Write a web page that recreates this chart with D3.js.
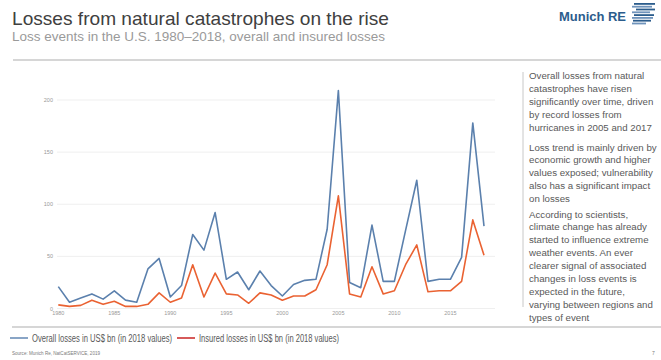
<!DOCTYPE html>
<html>
<head>
<meta charset="utf-8">
<script src="https://cdn.jsdelivr.net/npm/d3@7"></script>
<style>
  body { margin: 0; background: #fff; }
  svg { display: block; font-family: "Liberation Sans", Arial, sans-serif; }
</style>
</head>
<body>
<div id="chart"></div>
<script>
// data
var years = d3.range(1980, 2019);
var overall = [21, 6, 10, 14, 9, 17, 8, 6, 38, 48, 11, 22, 71, 56, 92, 28, 35, 18, 36, 22,
               12, 23, 27, 28, 76, 209, 25, 20, 80, 26, 26, 75, 123, 26, 28, 28, 49, 178, 79];
var insured = [3.5, 2, 3, 8, 4, 7, 2, 2, 4, 15, 6, 10, 42, 11, 34, 14, 13, 5, 15, 13,
               8, 12, 12, 18, 42, 108, 14, 11, 40, 14, 17, 42, 61, 16, 17, 17, 26, 85, 51];
var yTicks = [0, 50, 100, 150, 200];
var xTicks = [1980, 1985, 1990, 1995, 2000, 2005, 2010, 2015];
var legendLabels = ["Overall losses in US$ bn (in 2018 values)", "Insured losses in US$ bn (in 2018 values)"];
var notes = [
  ["Overall losses from natural", "catastrophes have risen", "significantly over time, driven",
   "by record losses from", "hurricanes in 2005 and 2017"],
  ["Loss trend is mainly driven by", "economic growth and higher", "values exposed; vulnerability",
   "also has a significant impact", "on losses"],
  ["According to scientists,", "climate change has already", "started to influence extreme",
   "weather events. An ever", "clearer signal of associated", "changes in loss events is",
   "expected in the future,", "varying between regions and", "types of event"]
];

var w = 661, h = 360;
var svg = d3.select("#chart").append("svg").attr("width", w).attr("height", h);

// header
svg.append("text").attr("x", 12).attr("y", 25)
    .attr("font-size", "18.5px").attr("fill", "#404040")
    .attr("textLength", 377).attr("lengthAdjust", "spacingAndGlyphs")
    .text("Losses from natural catastrophes on the rise");
svg.append("text").attr("x", 12).attr("y", 41)
    .attr("font-size", "13.3px").attr("fill", "#9a9a9a")
    .attr("textLength", 373).attr("lengthAdjust", "spacingAndGlyphs")
    .text("Loss events in the U.S. 1980\u20132018, overall and insured losses");

// logo
svg.append("text").attr("x", 559).attr("y", 21)
    .attr("font-size", "12px").attr("font-weight", "bold").attr("fill", "#2b5c8c")
    .attr("textLength", 67).attr("lengthAdjust", "spacingAndGlyphs")
    .text("Munich RE");
var stripes = [[634, 655], [632, 652], [636, 655], [632, 650], [634, 654], [632, 653], [633, 651], [632, 646]];
stripes.forEach(function(s, i) {
    svg.append("rect").attr("x", s[0]).attr("y", 3 + i * 2.8).attr("width", s[1] - s[0]).attr("height", 1.8)
        .attr("fill", i % 2 ? "#6f93bb" : "#2b5c8c");
});

// separators
svg.append("line").attr("x1", 13).attr("x2", w).attr("y1", 60).attr("y2", 60)
    .attr("stroke", "#c8c8c8").attr("stroke-width", 1.5);
svg.append("line").attr("x1", 12).attr("x2", w).attr("y1", 327).attr("y2", 327)
    .attr("stroke", "#c8c8c8").attr("stroke-width", 1.5);

// scales
var xScale = d3.scaleLinear().domain([1980, 2018]).range([58.3, 484]);
var yScale = d3.scaleLinear().domain([0, 200]).range([308.5, 100]);

// gridlines
svg.selectAll(".grid").data(yTicks).enter().append("line")
    .attr("class", "grid")
    .attr("x1", 57).attr("x2", 495)
    .attr("y1", function(d) { return yScale(d); })
    .attr("y2", function(d) { return yScale(d); })
    .attr("stroke", "#efefef").attr("stroke-width", 1);

svg.selectAll(".ylab").data(yTicks).enter().append("text")
    .attr("class", "ylab")
    .attr("x", 53).attr("y", function(d) { return yScale(d) + 2; })
    .attr("text-anchor", "end").attr("font-size", "5.5px").attr("fill", "#999")
    .text(function(d) { return d; });

svg.selectAll(".xlab").data(xTicks).enter().append("text")
    .attr("class", "xlab")
    .attr("x", function(d) { return xScale(d); }).attr("y", 315)
    .attr("text-anchor", "middle").attr("font-size", "5.5px").attr("fill", "#999")
    .text(function(d) { return d; });

// lines
var line = function(vals) {
    return d3.line()
        .x(function(d, i) { return xScale(years[i]); })
        .y(function(d) { return yScale(d); })(vals);
};
svg.append("path").attr("d", line(overall)).attr("fill", "none")
    .attr("stroke", "#5b80ad").attr("stroke-width", 1.6).attr("stroke-linejoin", "round");
svg.append("path").attr("d", line(insured)).attr("fill", "none")
    .attr("stroke", "#ea6232").attr("stroke-width", 1.6).attr("stroke-linejoin", "round");

// right notes
svg.append("line").attr("x1", 523).attr("x2", 523).attr("y1", 72).attr("y2", 307)
    .attr("stroke", "#c8c8c8").attr("stroke-width", 1);
var starts = [79, 150.5, 217.5];
notes.forEach(function(par, p) {
    par.forEach(function(t, i) {
        svg.append("text").attr("x", 529).attr("y", starts[p] + i * 12.9)
            .attr("font-size", "9.7px").attr("fill", "#595959").text(t);
    });
});

// legend
var legendColors = ["#4a74a8", "#c00000"];
var legendX = [10, 177];
legendLabels.forEach(function(t, i) {
    svg.append("line").attr("x1", legendX[i]).attr("x2", legendX[i] + 18).attr("y1", 338).attr("y2", 338)
        .attr("stroke", legendColors[i]).attr("stroke-width", 1.3);
    svg.append("text").attr("x", legendX[i] + 22).attr("y", 342)
        .attr("font-size", "10px").attr("fill", "#595959")
        .attr("textLength", 140).attr("lengthAdjust", "spacingAndGlyphs").text(t);
});

// footer
svg.append("text").attr("x", 12).attr("y", 355).attr("font-size", "5px").attr("fill", "#7a7a7a")
    .attr("textLength", 88).attr("lengthAdjust", "spacingAndGlyphs")
    .text("Source: Munich Re, NatCatSERVICE, 2019");
svg.append("text").attr("x", 652).attr("y", 355).attr("font-size", "5px").attr("fill", "#7a7a7a")
    .text("7");
</script>
</body>
</html>
